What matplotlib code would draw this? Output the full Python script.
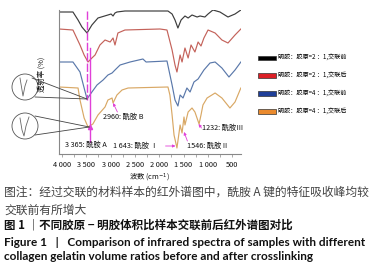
import matplotlib
matplotlib.use("Agg")
import matplotlib.pyplot as plt
from matplotlib.patches import Patch, Circle, ConnectionPatch
import numpy as np

plt.rcParams['font.family'] = ['Noto Sans CJK SC', 'DejaVu Sans']

# ---------------- data (wavenumber cm-1, relative transmittance) ----------------
black_wn = [4060, 3775, 3670, 3590, 3485, 3385, 3260, 3055, 2990, 2950, 2910, 2870, 2705, 1820, 1735,
            1675, 1615, 1550, 1470, 1405, 1325, 1220, 1160, 1060, 995, 895, 750, 585, 440, 320]
black_t = [142, 142, 134, 127, 121, 129, 136, 139, 140, 138, 141, 142, 143, 143, 140,
           134, 126, 134, 138, 136, 139, 137, 138, 137, 140, 144, 142, 137, 140, 144]

red_wn = [4060, 3775, 3630, 3545, 3465, 3385, 3320, 3220, 3115, 3010, 2950, 2910, 2850, 2705, 1985, 1840,
          1735, 1675, 1635, 1570, 1530, 1470, 1405, 1345, 1265, 1200, 1140, 1080, 995, 850, 710, 585, 440, 320]
red_t = [125, 124, 109, 99, 92, 96, 99, 109, 114, 112, 116, 109, 121, 124, 125, 124,
         104, 89, 82, 99, 92, 106, 96, 109, 102, 112, 108, 116, 124, 121, 114, 111, 119, 125]

blue_wn = [4060, 3775, 3630, 3545, 3485, 3385, 3280, 3155, 3055, 2970, 2910, 2805, 2600, 2335, 2270, 1840,
           1735, 1675, 1615, 1570, 1510, 1430, 1365, 1285, 1200, 1080, 955, 850, 710, 565, 440, 320]
blue_t = [92, 92, 82, 66, 55, 62, 69, 74, 79, 81, 84, 89, 92, 95, 92, 93,
          69, 54, 48, 59, 56, 66, 62, 72, 75, 84, 91, 92, 86, 77, 84, 92]

orange_wn = [4060, 3670, 3630, 3545, 3465, 3365, 3260, 3115, 3055, 3010, 2970, 2950, 2870, 2765, 2640, 1820,
             1780, 1735, 1695, 1635, 1570, 1530, 1490, 1470, 1405, 1325, 1265, 1180, 1140, 1100, 1015, 850,
             710, 545, 440, 320]
orange_t = [67, 66, 54, 36, 27, 30, 39, 47, 54, 55, 56, 51, 59, 64, 66, 67,
            59, 39, 19, 6, 29, 21, 37, 29, 42, 46, 42, 30, 39, 49, 56, 61,
            56, 46, 52, 66]

series_labels = ['明胶：胶原=2 ：1,交联前', '明胶：胶原=2 ：1,交联后',
                 '明胶：胶原=4 ：1,交联前', '明胶：胶原=4 ：1,交联后']
line_colors = ['#3c3c3c', '#c4625a', '#5a78aa', '#d9a865']
legend_colors = ['#000000', '#dc1f26', '#1f3f99', '#ea8a2e']

xticks = [4000, 3500, 3000, 2500, 2000, 1500, 1000, 500]
xtick_labels = ['4 000', '3 500', '3 000', '2 500', '2 000', '1 500', '1 000', '500']

PINK = '#e040d8'
W, H = 375, 269

fig = plt.figure(figsize=(W / 100, H / 100), dpi=100)
ax = fig.add_axes([59 / W, 1 - 154 / H, (241 - 59) / W, (154 - 10) / H])
ax.set_xlim(4062, 317)
ax.set_ylim(0, 144)

for wn, t, c in zip([black_wn, red_wn, blue_wn, orange_wn],
                    [black_t, red_t, blue_t, orange_t], line_colors):
    ax.plot(wn, t, color=c, lw=0.85)

for s in ['top', 'right']:
    ax.spines[s].set_visible(False)
for s in ['left', 'bottom']:
    ax.spines[s].set_color('#888888')
    ax.spines[s].set_linewidth(0.8)
ax.set_yticks([])
ax.set_xticks(xticks)
ax.set_xticklabels(xtick_labels, fontsize=5.3, color='#111111')
ax.set_xticks(np.arange(500, 4001, 250), minor=True)
ax.tick_params(axis='x', which='both', length=2, width=0.5, color='#888888', pad=3)
ax.set_xlabel('波数 (cm$^{-1}$)', fontsize=5.3, labelpad=2, color='#111111')
ax.set_ylabel('透射率 (%)', fontsize=5.3, labelpad=6, color='#111111')
ax.yaxis.set_label_coords(-0.072, 0.55)

# pink marker lines
ax.plot([3485, 3485], [143, 54], color=PINK, lw=1.0, ls=(0, (6, 1.5)))
ax.plot([3425, 3425], [106, 12], color=PINK, lw=1.0)
ax.plot([3425], [27], marker='^', color=PINK, ms=3)

arrow = dict(arrowstyle='-|>', color=PINK, lw=0.6, mutation_scale=4, shrinkA=0, shrinkB=0)
ax.annotate('', xy=(2950, 51), xytext=(2860, 42), arrowprops=arrow)
ax.annotate('', xy=(1665, 8), xytext=(1870, 8), arrowprops=arrow)
ax.annotate('', xy=(1490, 22), xytext=(1420, 13), arrowprops=arrow)
ax.annotate('', xy=(1190, 30), xytext=(1130, 26), arrowprops=arrow)

fs = 5.2
ax.text(3150, 37, '2960: 酰胺 B', fontsize=fs, va='center', ha='left', color='#111111')
ax.text(3930, 9, '3 365: 酰胺 A', fontsize=fs, va='center', ha='left', color='#111111')
ax.text(2950, 8, '1 643: 酰胺 Ⅰ', fontsize=fs, va='center', ha='left', color='#111111')
ax.text(1420, 8, '1546: 酰胺Ⅱ', fontsize=fs, va='center', ha='left', color='#111111')
ax.text(1120, 26, '1232: 酰胺Ⅲ', fontsize=fs, va='center', ha='left', color='#111111')

# overlay axes in pixel coordinates for the magnifier circles
ov = fig.add_axes([0, 0, 1, 1], zorder=-1)
ov.set_xlim(0, W)
ov.set_ylim(H, 0)
ov.axis('off')
for cy, pts in [(87, [(20, 78), (22, 90), (23, 96), (25, 86), (27, 80)]),
                (126, [(20, 118), (22, 130), (24, 136), (26, 126), (29, 117)])]:
    ov.add_patch(Circle((25, cy), 13, fill=False, ec='#555555', lw=0.6))
    xs, ys = zip(*pts)
    ov.plot(xs, ys, color='#666666', lw=0.6)

for (px, py), target in [((32, 78), (3485, 55)), ((35, 97), (3485, 55)),
                         ((35, 116), (3440, 27)), ((35, 135), (3440, 27))]:
    cp = ConnectionPatch(xyA=(px, py), coordsA=ov.transData, xyB=target, coordsB=ax.transData,
                         color='#444444', lw=0.6)
    fig.add_artist(cp)

# legend
handles = [Patch(facecolor=c, edgecolor='#333333', linewidth=0.5) for c in legend_colors]
fig.legend(handles, series_labels, loc='upper left', bbox_to_anchor=(258 / W, 1 - 54 / H),
           frameon=False, fontsize=4.4, handlelength=3.0, handleheight=0.8,
           handletextpad=0.3, labelspacing=1.6, borderpad=0, borderaxespad=0)

# captions
fig.text(4 / W, 1 - 192 / H, '图注：经过交联的材料样本的红外谱图中，酰胺 A 键的特征吸收峰均较',
         fontsize=8.5, va='center', ha='left', color='#444444')
fig.text(4 / W, 1 - 210 / H, '交联前有所增大', fontsize=8.5, va='center', ha='left', color='#444444')
fig.text(4 / W, 1 - 225 / H, '图 1 ｜不同胶原 − 明胶体积比样本交联前后红外谱图对比',
         fontsize=8.3, va='center', ha='left', color='#111111', fontweight='bold')
fig.text(4 / W, 1 - 242 / H, 'Figure 1   |   Comparison of infrared spectra of samples with different',
         fontsize=8.45, va='center', ha='left', color='#111111', fontweight='bold', family='Lato')
fig.text(4 / W, 1 - 257 / H, 'collagen gelatin volume ratios before and after crosslinking',
         fontsize=8.45, va='center', ha='left', color='#111111', fontweight='bold', family='Lato')

fig.savefig('out.png', dpi=100)
